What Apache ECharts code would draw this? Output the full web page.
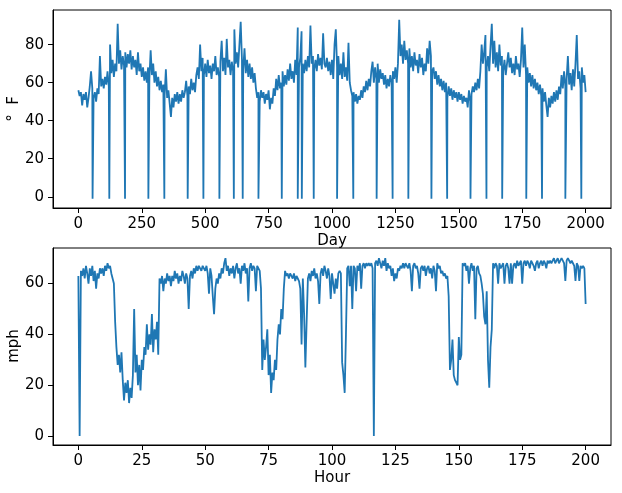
<!DOCTYPE html>
<html>
<head>
<meta charset="utf-8">
<title>Temperature and wind speed</title>
<script src="https://cdn.jsdelivr.net/npm/echarts@6.0.0/dist/echarts.min.js"></script>
<style>
  html, body { margin: 0; padding: 0; background: #fff; }
  #chart { width: 622px; height: 493px; }
</style>
</head>
<body>
<div id="chart"></div>
<script>
// daily temperature, one value every 5 days from day 0
const tempStep = 5;
const tempValues = [
  56,53,55,48,54,51,55,47,52,58,66,57,52,55,50,57,54,74,58,62,
  57,63,59,66,58,80,65,72,63,70,66,91,70,77,67,74,69,76,68,75,
  70,77,67,74,68,72,64,76,66,70,63,68,61,66,60,68,62,77,64,70,
  60,66,58,63,56,61,55,59,53,67,52,56,49,42,52,47,54,50,55,49,
  54,50,56,52,55,61,53,58,54,62,56,60,55,64,68,62,80,66,73,64,
  70,63,72,65,69,62,70,66,74,64,68,63,71,82,66,73,64,83,68,72,
  64,71,66,88,70,76,68,80,92,72,67,78,65,72,63,70,62,68,60,65,
  57,52,55,50,56,52,55,49,54,51,56,46,52,49,57,53,62,56,64,57,
  60,66,58,64,59,67,61,70,62,66,60,72,64,89,68,73,87,70,65,72,
  66,74,68,90,70,74,67,72,66,75,69,73,67,86,70,68,73,66,71,64,
  72,62,80,88,68,74,64,70,62,76,63,68,61,81,60,56,53,55,50,54,
  49,53,51,56,52,58,55,61,56,62,58,66,71,60,68,62,70,60,67,62,
  65,59,64,57,62,58,64,60,66,62,68,60,70,93,74,80,70,82,72,77,
  70,78,68,74,66,76,69,72,65,75,68,73,64,70,66,78,70,82,74,66,
  68,62,66,59,64,58,62,56,61,55,60,52,58,53,57,51,56,52,55,50,
  55,51,54,49,53,50,52,47,56,50,54,58,55,60,56,62,57,66,80,70,
  76,85,68,74,66,79,91,70,82,68,76,66,80,69,74,66,72,64,70,76,
  68,73,65,70,64,74,67,70,63,72,89,68,80,64,68,60,65,58,64,57,
  62,56,60,54,59,53,57,50,55,48,42,52,47,53,49,55,50,56,51,58,
  54,64,57,66,58,62,74,59,65,56,67,58,70,85,62,66,57,68,60,64,55
];
// days where the sensor dropped out
const dropDays = [56,122,184,276,339,431,493,556,613,648,710,802,865,881,928,
  1020,1084,1176,1239,1301,1392,1454,1546,1609,1671,1766,1828,1920,1983];
const dropValue = -1;

// wind speed, one value every half hour from hour 0
const mphStep = 0.5;
const mphValues = [
  63,0,65,63,66,62,67,64,60,66,63,67,61,65,58,64,62,66,64,66,
  63,67,65,68,66,67,64,62,60,45,35,28,32,25,33,22,14,21,17,22,
  13,19,15,24,50,25,32,20,28,18,30,26,35,32,44,34,40,36,48,33,
  42,38,45,32,62,60,63,57,62,60,64,61,63,59,63,61,65,62,64,60,
  63,61,65,63,60,64,62,50,63,65,62,66,64,67,65,67,66,65,67,66,
  65,67,64,56,66,63,55,48,58,62,60,64,62,66,64,68,70,65,67,63,
  66,64,67,62,66,68,64,66,60,67,65,68,64,66,53,66,68,65,67,66,
  57,67,66,65,58,26,38,30,35,42,24,32,17,25,22,30,26,38,44,40,
  50,46,58,65,63,64,62,64,63,62,64,61,63,62,61,58,36,62,48,27,
  45,62,64,61,65,63,66,62,64,61,52,64,66,63,67,65,62,66,63,54,
  64,60,56,62,58,64,65,64,29,24,17,40,66,67,59,67,50,67,66,57,
  67,65,68,58,67,68,66,68,67,68,67,68,66,0,68,69,67,70,68,66,
  69,67,70,65,68,66,67,63,66,61,64,62,66,65,67,66,68,66,68,67,
  66,68,65,57,67,68,66,67,64,58,66,67,65,67,63,66,67,64,66,62,
  67,65,57,68,66,67,64,65,63,64,62,63,55,26,30,38,24,22,21,20,
  39,30,32,68,67,68,65,67,60,66,68,65,67,46,66,67,64,63,60,56,
  47,44,57,30,19,35,42,68,66,68,67,60,68,66,67,68,60,67,68,66,
  60,68,60,67,68,66,69,67,68,69,60,68,69,67,69,68,66,69,68,67,
  65,68,69,66,68,69,67,69,68,66,69,68,69,68,69,70,68,69,70,68,
  69,70,69,68,61,69,70,69,68,69,68,67,61,68,67,61,67,66,67,66,52
];

const dayTicks = [0,250,500,750,1000,1250,1500,1750,2000];
const tempTicks = [0,20,40,60,80];
const hourTicks = [0,25,50,75,100,125,150,175,200];
const mphTicks = [0,20,40,60];

const tempData = tempValues.map((v, i) => [i * tempStep, v])
  .concat(dropDays.map(d => [d, dropValue]))
  .sort((a, b) => a[0] - b[0]);
const mphData = mphValues.map((v, i) => [i * mphStep, v]);

const font = 'DejaVu Sans';
const lineColor = '#1f77b4';

function axis(kind, idx, min, max, ticks, name) {
  return {
    type: 'value', gridIndex: idx, min: min, max: max,
    name: name, nameLocation: 'middle', nameGap: 26,
    nameTextStyle: { fontFamily: font, fontSize: 15, color: '#000' },
    axisLine: { show: true, onZero: false, lineStyle: { color: '#000', width: 1 } },
    axisTick: { show: true, length: 5, customValues: ticks, lineStyle: { color: '#000' } },
    axisLabel: {
      customValues: ticks, margin: 9, fontFamily: font, fontSize: 15, color: '#000',
      formatter: v => String(v)
    },
    splitLine: { show: false }
  };
}

// rotated y-axis titles
function yTitle(text, y) {
  return {
    type: 'text', x: 14, y: y, rotation: Math.PI / 2,
    style: { text: text, fontFamily: font, fontSize: 15, fill: '#000',
             align: 'center', verticalAlign: 'middle' }
  };
}

const chart = echarts.init(document.getElementById('chart'));
chart.setOption({
  animation: false,
  backgroundColor: '#fff',
  grid: [
    { left: 53, top: 10, width: 558, height: 198, outerBoundsMode: 'none',
      show: true, borderColor: '#000', borderWidth: 1 },
    { left: 53, top: 248, width: 558, height: 197, outerBoundsMode: 'none',
      show: true, borderColor: '#000', borderWidth: 1 }
  ],
  xAxis: [
    axis('x', 0, -100, 2100, dayTicks, 'Day'),
    axis('x', 1, -10, 210, hourTicks, 'Hour')
  ],
  yAxis: [
    axis('y', 0, -5.9, 98.2, tempTicks, ''),
    axis('y', 1, -3.5, 74, mphTicks, '')
  ],
  graphic: [yTitle('°  F', 109), yTitle('mph', 346)],
  series: [
    {
      type: 'line', xAxisIndex: 0, yAxisIndex: 0, data: tempData,
      showSymbol: false, lineStyle: { color: lineColor, width: 1.8 }
    },
    {
      type: 'line', xAxisIndex: 1, yAxisIndex: 1, data: mphData,
      showSymbol: false, lineStyle: { color: lineColor, width: 1.8 }
    }
  ]
});
</script>
</body>
</html>
